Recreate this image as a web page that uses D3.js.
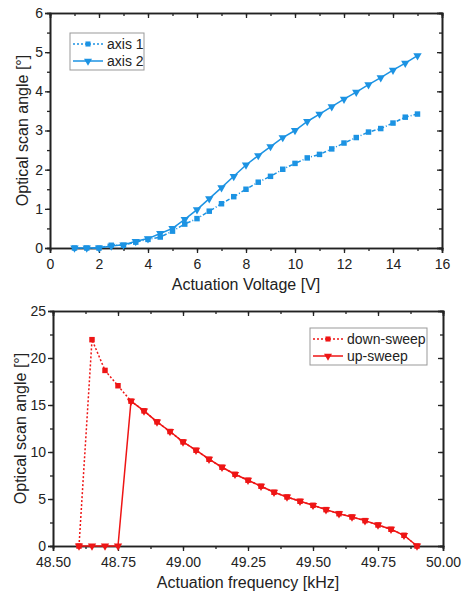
<!DOCTYPE html>
<html>
<head>
<meta charset="utf-8">
<script src="https://cdn.jsdelivr.net/npm/d3@7"></script>
<style>
body { margin: 0; background: #fff; }
text { font-family: "Liberation Sans", Arial, sans-serif; fill: #222; }
</style>
</head>
<body>
<svg id="chart" width="465" height="593"></svg>
<script>
// top chart: voltage sweep
var voltage = [1,1.5,2,2.5,3,3.5,4,4.5,5,5.5,6,6.5,7,7.5,8,8.5,9,9.5,10,10.5,11,11.5,12,12.5,13,13.5,14,14.5,15]
var axis1 = [0,0,0,0.07,0.07,0.15,0.22,0.28,0.43,0.61,0.75,0.94,1.13,1.31,1.50,1.68,1.83,2.01,2.16,2.30,2.39,2.53,2.68,2.82,2.96,3.05,3.19,3.34,3.42]
var axis2 = [0,0,0,0.05,0.08,0.17,0.24,0.37,0.50,0.73,0.98,1.26,1.54,1.83,2.12,2.36,2.59,2.82,3.00,3.23,3.42,3.61,3.80,3.98,4.17,4.35,4.54,4.72,4.91]

// bottom chart: frequency sweep
var freqDown = [48.60,48.65,48.70,48.75,48.80,48.85,48.90,48.95,49.00,49.05,49.10,49.15,49.20,49.25,49.30,49.35,49.40,49.45,49.50,49.55,49.60,49.65,49.70,49.75,49.80,49.85,49.90]
var downSweep = [0,21.95,18.68,17.05,15.41,14.38,13.21,12.18,11.08,10.19,9.23,8.38,7.63,7.0,6.36,5.72,5.22,4.76,4.33,3.87,3.44,3.09,2.70,2.24,1.78,1.14,0]
var freqUp = freqDown
var upSweep = [0,0,0,0,15.41,14.38,13.21,12.18,11.08,10.19,9.23,8.38,7.63,7.0,6.36,5.72,5.22,4.76,4.33,3.87,3.44,3.09,2.70,2.24,1.78,1.14,0]

var topXTicks = [0,2,4,6,8,10,12,14,16]
var topYTicks = [0,1,2,3,4,5,6]
var botXTicks = [48.5,48.75,49,49.25,49.5,49.75,50]
var botYTicks = [0,5,10,15,20,25]

var blue = "#1c93e3"
var red = "#ee1515"

var svg = d3.select("#chart")

function drawPanel(o){
    var g = svg.append("g")
    var x = d3.scaleLinear().domain(o.xdom).range([o.left, o.right])
    var y = d3.scaleLinear().domain(o.ydom).range([o.bottom, o.top])

    // minor ticks
    var xminor = d3.range(o.xdom[0], o.xdom[1] + 1e-9, o.xstep/2)
    var yminor = d3.range(o.ydom[0], o.ydom[1] + 1e-9, o.ystep/2)

    g.append("g").attr("transform", "translate(0," + o.bottom + ")")
        .call(d3.axisBottom(x).tickValues(xminor).tickSize(3).tickFormat(""))
    g.append("g").attr("transform", "translate(0," + o.top + ")")
        .call(d3.axisTop(x).tickValues(xminor).tickSize(-3).tickFormat(""))
    g.append("g").attr("transform", "translate(" + o.left + ",0)")
        .call(d3.axisLeft(y).tickValues(yminor).tickSize(3).tickFormat(""))
    g.append("g").attr("transform", "translate(" + o.right + ",0)")
        .call(d3.axisRight(y).tickValues(yminor).tickSize(-3).tickFormat(""))

    // major ticks
    g.append("g").attr("transform", "translate(0," + o.bottom + ")")
        .call(d3.axisBottom(x).tickValues(o.xticks).tickSize(5).tickPadding(6).tickFormat(o.xfmt))
    g.append("g").attr("transform", "translate(0," + o.top + ")")
        .call(d3.axisTop(x).tickValues(o.xticks).tickSize(-5).tickFormat(""))
    g.append("g").attr("transform", "translate(" + o.left + ",0)")
        .call(d3.axisLeft(y).tickValues(o.yticks).tickSize(5).tickPadding(2).tickFormat(d3.format("d")))
    g.append("g").attr("transform", "translate(" + o.right + ",0)")
        .call(d3.axisRight(y).tickValues(o.yticks).tickSize(-5).tickFormat(""))

    g.selectAll(".domain").attr("stroke", "#222").attr("stroke-width", 1.6)
    g.selectAll(".tick line").attr("stroke", "#222").attr("stroke-width", 1.3)
    g.selectAll(".tick text").style("font-size", "14px").style("font-family", "Liberation Sans, Arial, sans-serif").attr("fill", "#333")

    // axis titles
    g.append("text").attr("x", (o.left + o.right)/2).attr("y", o.xtitleY)
        .attr("text-anchor", "middle").style("font-size", "16px").text(o.xtitle)
    g.append("text").attr("transform", "translate(" + o.ytitleX + "," + ((o.top + o.bottom)/2) + ") rotate(-90)")
        .attr("text-anchor", "middle").style("font-size", "16px").text(o.ytitle)

    return {x: x, y: y, g: g}
}

function drawSeries(p, xs, ys, color, dash, shape, size){
    var pts = xs.map(function(d, i){ return [d, ys[i]] })
    var line = d3.line().x(function(d){ return p.x(d[0]) }).y(function(d){ return p.y(d[1]) })
    p.g.append("path").datum(pts).attr("d", line)
        .attr("fill", "none").attr("stroke", color).attr("stroke-width", 1.5)
        .attr("stroke-dasharray", dash)
    p.g.selectAll(null).data(pts).enter().append("path")
        .attr("transform", function(d){ return "translate(" + p.x(d[0]) + "," + p.y(d[1]) + ")" + (shape == "tri" ? " rotate(180)" : "") })
        .attr("d", d3.symbol().type(shape == "tri" ? d3.symbolTriangle : d3.symbolSquare).size(size))
        .attr("fill", color)
}

function drawLegend(p, lx, ly, w, items){
    var lg = p.g.append("g").attr("transform", "translate(" + lx + "," + ly + ")")
    lg.append("rect").attr("width", w).attr("height", 37).attr("fill", "#fff")
        .attr("stroke", "#999").attr("stroke-width", 1)
    items.forEach(function(it, i){
        var yy = 11 + i*17
        lg.append("line").attr("x1", 3).attr("x2", 33).attr("y1", yy).attr("y2", yy)
            .attr("stroke", it.color).attr("stroke-width", 1.5).attr("stroke-dasharray", it.dash)
        lg.append("path").attr("transform", "translate(18," + yy + ")" + (it.shape == "tri" ? " rotate(180)" : ""))
            .attr("d", d3.symbol().type(it.shape == "tri" ? d3.symbolTriangle : d3.symbolSquare).size(it.size))
            .attr("fill", it.color)
        lg.append("text").attr("x", 37).attr("y", yy + 5).style("font-size", "14px").attr("fill", "#333").text(it.label)
    })
}

// top panel
var p1 = drawPanel({
    xdom: [0, 16], ydom: [0, 6], left: 50, right: 442, top: 13, bottom: 248,
    xstep: 2, ystep: 1, xticks: topXTicks, yticks: topYTicks, xfmt: d3.format("d"),
    xtitle: "Actuation Voltage [V]", ytitle: "Optical scan angle [°]", xtitleY: 290, ytitleX: 28
})
drawSeries(p1, voltage, axis1, blue, "4,2,1,2", "sq", 30)
drawSeries(p1, voltage, axis2, blue, null, "tri", 30)
drawLegend(p1, 70, 33, 74, [
    {label: "axis 1", color: blue, dash: "2,2", shape: "sq", size: 26},
    {label: "axis 2", color: blue, dash: null, shape: "tri", size: 28}
])

// bottom panel
var p2 = drawPanel({
    xdom: [48.5, 50], ydom: [0, 25], left: 53, right: 443, top: 311, bottom: 546,
    xstep: 0.25, ystep: 5, xticks: botXTicks, yticks: botYTicks, xfmt: d3.format(".2f"),
    xtitle: "Actuation frequency [kHz]", ytitle: "Optical scan angle [°]", xtitleY: 588, ytitleX: 26
})
drawSeries(p2, freqDown, downSweep, red, "2,2", "sq", 30)
drawSeries(p2, freqUp, upSweep, red, null, "tri", 30)
drawLegend(p2, 310, 328, 117, [
    {label: "down-sweep", color: red, dash: "2,2", shape: "sq", size: 26},
    {label: "up-sweep", color: red, dash: null, shape: "tri", size: 28}
])
</script>
</body>
</html>
